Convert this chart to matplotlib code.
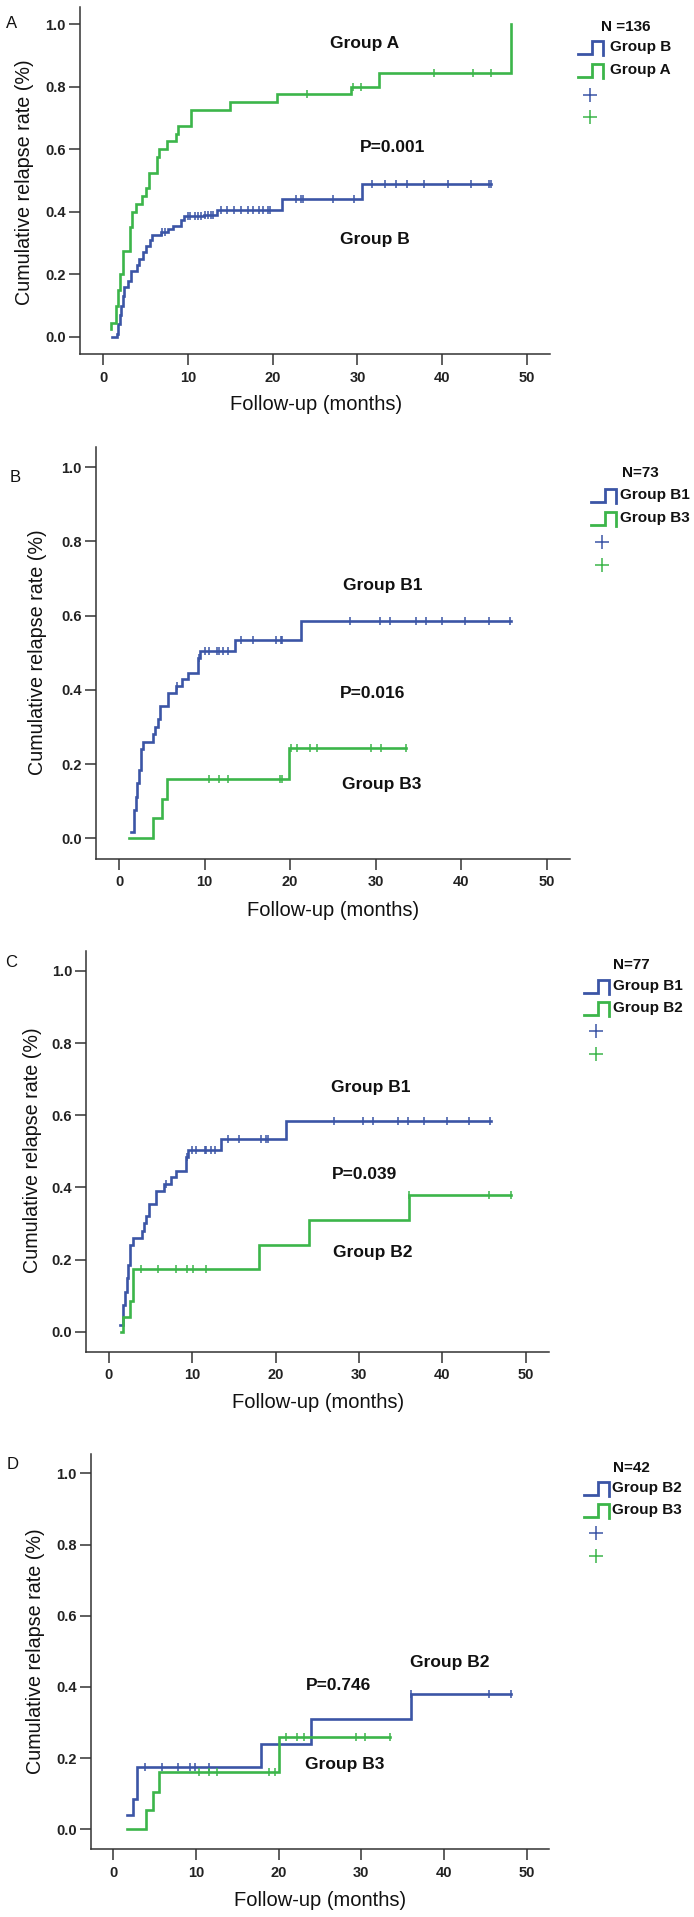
import numpy as np
import matplotlib.pyplot as plt
from matplotlib.lines import Line2D

W, H = 694, 1917
BLUE = '#3b55a6'
GREEN = '#3cb54a'
NARROW = ['Liberation Sans Narrow', 'Liberation Sans', 'DejaVu Sans']
PLAIN = ['Liberation Sans', 'DejaVu Sans']

# ---------------- data ----------------
# panel A
grpA_t = [0.9, 1.0, 1.5, 1.8, 1.95, 2.4, 3.2, 3.4, 3.9, 4.6, 5.1, 5.4, 6.4, 6.6, 7.6, 8.6, 8.8,
          10.4, 15.0, 20.5, 29.2, 32.6, 48.1]
grpA_y = [0.025, 0.045, 0.10, 0.15, 0.20, 0.275, 0.35, 0.40, 0.425, 0.45, 0.475, 0.525, 0.575, 0.60,
          0.625, 0.65, 0.675, 0.725, 0.75, 0.775, 0.80, 0.845, 1.0]
grpA_cens = [24.1, 29.5, 30.4, 39.0, 43.6, 45.7]

grpB_t = [1.1, 1.6, 1.8, 1.95, 2.1, 2.3, 2.5, 2.9, 3.3, 4.0, 4.3, 4.7, 5.1, 5.5, 5.8, 6.8, 7.7, 8.3,
          9.2, 9.6, 11.9, 13.4, 21.1, 30.6, 45.8]
grpB_y = [0.0, 0.01, 0.04, 0.07, 0.10, 0.13, 0.16, 0.18, 0.21, 0.23, 0.25, 0.27, 0.29, 0.31, 0.325,
          0.335, 0.345, 0.355, 0.375, 0.385, 0.39, 0.405, 0.44, 0.49, 0.49]
grpB_cens = [6.9, 7.3, 10.0, 10.3, 10.8, 11.2, 11.6, 12.0, 12.4, 12.7, 13.0, 13.9, 14.6, 15.5, 16.3,
             17.1, 17.7, 18.4, 18.9, 19.4, 19.7, 22.8, 23.3, 23.6, 27.1, 29.6, 31.7, 33.2, 34.6,
             35.9, 37.8, 40.7, 43.4, 45.5, 45.8]

# group B1 (panels B and C)
b1_t = [1.37, 1.75, 1.95, 2.15, 2.35, 2.55, 2.85, 4.0, 4.2, 4.5, 4.8, 5.7, 6.6, 7.4, 8.1, 9.2, 9.5,
        13.5, 21.3, 45.8]
b1_y = [0.018, 0.075, 0.11, 0.15, 0.185, 0.24, 0.26, 0.28, 0.30, 0.32, 0.355, 0.39, 0.41, 0.43,
        0.445, 0.485, 0.505, 0.535, 0.585, 0.585]
b1_cens = [6.8, 9.4, 10.0, 10.5, 11.5, 11.7, 12.2, 12.7, 14.3, 15.6, 18.3, 18.9, 19.1, 27.0, 30.5,
           31.7, 34.7, 35.9, 37.8, 40.5, 43.2, 45.7]

# group B3 (panel B)
b3_t = [1.14, 4.0, 5.0, 5.6, 19.9, 33.5]
b3_y = [0.0, 0.055, 0.105, 0.16, 0.243, 0.243]
b3_cens = [10.5, 11.7, 12.7, 18.8, 19.1, 20.1, 20.8, 22.3, 23.1, 29.5, 30.6, 33.5]

# group B2 (panel C)
b2_t = [1.44, 1.7, 2.56, 2.93, 18.0, 24.0, 36.0, 48.2]
b2_y = [0.0, 0.04, 0.085, 0.175, 0.24, 0.31, 0.38, 0.38]
b2_cens = [3.9, 5.9, 8.0, 9.4, 10.1, 11.7, 36.0, 45.6, 48.2]

# panel D: group B2 vs group B3
d_b2_t = [1.6, 2.4, 2.85, 17.9, 23.9, 36.0, 48.1]
d_b2_y = [0.04, 0.085, 0.175, 0.24, 0.31, 0.38, 0.38]
d_b2_cens = [3.8, 5.9, 7.8, 9.3, 9.9, 11.6, 36.0, 45.4, 48.1]

d_b3_t = [1.6, 4.0, 4.8, 5.5, 20.0, 33.5]
d_b3_y = [0.0, 0.055, 0.105, 0.16, 0.26, 0.26]
d_b3_cens = [10.4, 11.6, 12.6, 18.8, 19.6, 20.9, 22.2, 23.1, 29.3, 30.5, 33.5]

panel_letters = ['A', 'B', 'C', 'D']
n_labels = ['N =136', 'N=73', 'N=77', 'N=42']
legend_names = [['Group B', 'Group A'], ['Group B1', 'Group B3'],
                ['Group B1', 'Group B2'], ['Group B2', 'Group B3']]

curves = [
    [(grpB_t, grpB_y, grpB_cens, BLUE), (grpA_t, grpA_y, grpA_cens, GREEN)],
    [(b1_t, b1_y, b1_cens, BLUE), (b3_t, b3_y, b3_cens, GREEN)],
    [(b1_t, b1_y, b1_cens, BLUE), (b2_t, b2_y, b2_cens, GREEN)],
    [(d_b2_t, d_b2_y, d_b2_cens, BLUE), (d_b3_t, d_b3_y, d_b3_cens, GREEN)],
]

# in-plot labels: (text, x month, y value)
annots = [
    [('Group A', 30.8, 0.938), ('P=0.001', 34.2, 0.605), ('Group B', 32.1, 0.31)],
    [('Group B1', 30.8, 0.68), ('P=0.016', 29.6, 0.39), ('Group B3', 30.7, 0.144)],
    [('Group B1', 31.4, 0.677), ('P=0.039', 30.7, 0.437), ('Group B2', 31.7, 0.22)],
    [('Group B2', 40.7, 0.468), ('P=0.746', 27.2, 0.404), ('Group B3', 28.0, 0.181)],
]

# ---------------- layout in pixels ----------------
# pixel of month 0, month 50, value 1.0, value 0.0
anchors = [(103, 527, 24, 337), (119.1, 546.7, 467, 838.3),
           (108.9, 525.8, 971, 1331.7), (113.3, 526.7, 1473.3, 1829.3)]
XLIM = (-2.75, 52.75)
YLIM = (-0.055, 1.055)
ylab_pos = [(25, 182), (38, 652), (33, 1150), (36, 1651)]
xlab_pos = [(316, 405), (333, 910), (318, 1402), (320, 1900)]
letter_pos = [(12, 23), (15, 478), (11, 962), (13, 1464)]
# legend: N centre, icon x, row ys, plus x, plus ys, text x
leg = [((626, 27), 578, (47, 70), 590, (95, 117), 610),
       ((640, 473), 591, (495, 518), 602, (542, 565), 620),
       ((631, 965), 584, (986, 1008), 596, (1031, 1054), 613),
       ((631, 1468), 584, (1488, 1510), 596, (1533, 1556), 612)]


def fx(x):
    return x / W


def fy(y):
    return 1 - y / H


def step_y(times, vals, at):
    idx = np.searchsorted(times, at, side='right') - 1
    return np.asarray(vals)[np.clip(idx, 0, None)]


fig = plt.figure(figsize=(W / 100, H / 100), dpi=100)

for i in range(4):
    x0, x50, y1, y0 = anchors[i]
    ppx = (x50 - x0) / 50
    ppy = (y0 - y1)
    left = x0 + XLIM[0] * ppx
    right = x0 + XLIM[1] * ppx
    top = y0 - YLIM[1] * ppy
    bottom = y0 - YLIM[0] * ppy
    ax = fig.add_axes([fx(left), fy(bottom), (right - left) / W, (bottom - top) / H])
    ax.set_xlim(*XLIM)
    ax.set_ylim(*YLIM)

    for t, v, cens, col in curves[i]:
        ax.step(t, v, where='post', color=col, lw=1.9, solid_joinstyle='miter')
        ax.plot(cens, step_y(t, v, cens), ls='none', marker='|', ms=6, mew=1.1, color=col)

    for txt, xm, yv in annots[i]:
        ax.text(xm, yv, txt, ha='center', va='center', fontsize=12.5, fontweight='bold',
                family=NARROW, color='#111111')

    for s in ['top', 'right']:
        ax.spines[s].set_visible(False)
    for s in ['left', 'bottom']:
        ax.spines[s].set_color('#333333')
        ax.spines[s].set_linewidth(1.1)
    ax.set_xticks(np.arange(0, 51, 10))
    ax.set_yticks(np.arange(0, 1.01, 0.2))
    ax.set_yticklabels(['%.1f' % v for v in np.arange(0, 1.01, 0.2)])
    ax.tick_params(direction='out', length=8, width=1.1, color='#333333')
    ax.tick_params(axis='x', pad=4)
    ax.tick_params(axis='y', pad=2)
    for lab in ax.get_xticklabels() + ax.get_yticklabels():
        lab.set_family(NARROW)
        lab.set_fontweight('bold')
        lab.set_fontsize(10.5)
        lab.set_color('#222222')

    fig.text(fx(ylab_pos[i][0]), fy(ylab_pos[i][1]), 'Cumulative relapse rate (%)', rotation=90,
             ha='center', va='center', fontsize=14.2, family=PLAIN, color='#111111')
    fig.text(fx(xlab_pos[i][0]), fy(xlab_pos[i][1]), 'Follow-up (months)', ha='center', va='center',
             fontsize=14.5, family=PLAIN, color='#111111')
    fig.text(fx(letter_pos[i][0]), fy(letter_pos[i][1]), panel_letters[i], ha='center', va='center',
             fontsize=12, family=PLAIN, color='#111111')

    # legend, drawn the SPSS way
    (nx, ny), ix, rows, plx, plys, tx = leg[i]
    fig.text(fx(nx), fy(ny), n_labels[i], ha='center', va='center', fontsize=11, fontweight='bold',
             family=NARROW, color='#111111')
    for r, col, name in zip(rows, [BLUE, GREEN], legend_names[i]):
        xs = [ix, ix + 14, ix + 14, ix + 25, ix + 25]
        ys = [r + 7, r + 7, r - 6, r - 6, r + 8]
        fig.add_artist(Line2D([fx(v) for v in xs], [fy(v) for v in ys], transform=fig.transFigure,
                              color=col, lw=2.0, solid_joinstyle='miter'))
        fig.text(fx(tx), fy(r), name, ha='left', va='center', fontsize=11, fontweight='bold',
                 family=NARROW, color='#111111')
    for py, col in zip(plys, [BLUE, GREEN]):
        fig.add_artist(Line2D([fx(plx)], [fy(py)], transform=fig.transFigure, ls='none',
                              marker='+', ms=10, mew=1.1, color=col))

fig.savefig('out.png', dpi=100)
